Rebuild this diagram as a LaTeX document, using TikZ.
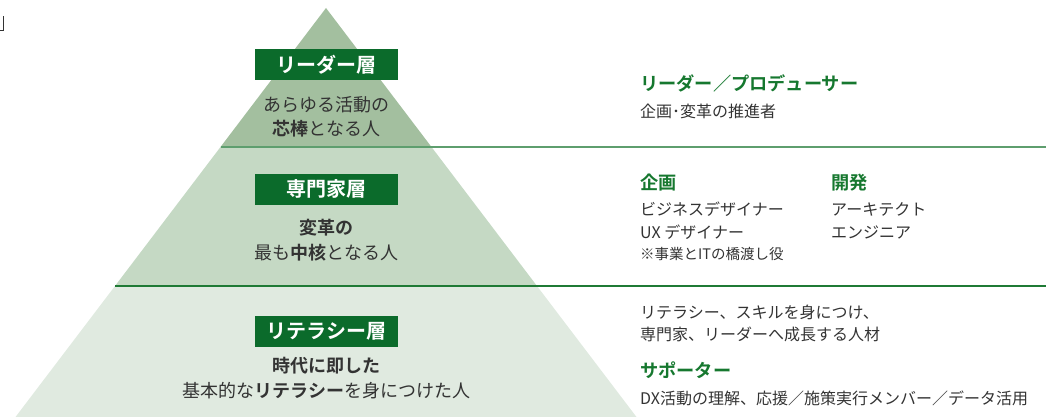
\documentclass[tikz,border=0pt]{standalone}
\usepackage{fontspec}
\setmainfont{Noto Sans CJK JP}[BoldFont={Noto Sans CJK JP Bold}]
\definecolor{topfill}{HTML}{A3BF9F}
\definecolor{midfill}{HTML}{C5D9C4}
\definecolor{lowfill}{HTML}{E0EAE0}
\definecolor{boxgreen}{HTML}{0B6B2B}
\definecolor{headgreen}{HTML}{16782F}
\definecolor{lineA}{HTML}{5E9E6E}
\definecolor{lineB}{HTML}{1F7A35}
\definecolor{txt}{HTML}{333333}
\tikzset{
  layerbox/.style={fill=boxgreen, text=white, font=\fontsize{20}{22}\selectfont\bfseries, minimum width=143pt, minimum height=31pt, inner sep=0pt},
  pyrtext/.style={text=txt, font=\fontsize{18}{24.5}\selectfont, align=center, inner sep=0pt},
  head/.style={text=headgreen, font=\fontsize{18.2}{20}\selectfont\bfseries, anchor=west, inner sep=0pt},
  body/.style={text=txt, font=\fontsize{16}{23}\selectfont, anchor=west, inner sep=0pt, align=left},
  note/.style={text=txt, font=\fontsize{14.5}{16}\selectfont, anchor=west, inner sep=0pt},
}
\begin{document}
\begin{tikzpicture}[x=1pt,y=-1pt]
\useasboundingbox (0,0) rectangle (1046,417);
% pyramid bands
\fill[lowfill] (115,286) -- (537,286) -- (636.5,417) -- (15.5,417) -- cycle;
\fill[midfill] (220.5,147) -- (431.5,147) -- (537,286) -- (115,286) -- cycle;
\fill[topfill] (326,8) -- (431.5,147) -- (220.5,147) -- cycle;
% separator lines
\coordinate (l1a) at (220.5,147);
\coordinate (l1b) at (1046,147);
\coordinate (l2a) at (115,286);
\coordinate (l2b) at (1046,286);
\draw[lineA, line width=1.3pt] (l1a) -- (l1b);
\draw[lineB, line width=1.5pt] (l2a) -- (l2b);
% fragment at top left
\draw[txt, line width=1.4pt] (3.5,16.5) -- (3.5,30.5) -- (-2,30.5);
% layer labels
\node[layerbox] (b1) at (326.5,64.5) {リーダー層};
\node[layerbox] (b2) at (326.5,189) {専門家層};
\node[layerbox] (b3) at (326.5,331) {リテラシー層};
% pyramid texts
\node[pyrtext] (p1) at (326.5,117) {あらゆる活動の\\\textbf{芯棒}となる人};
\node[pyrtext] (p2) at (326.5,240) {\textbf{変革の}\\最も\textbf{中核}となる人};
\node[pyrtext] (p3) at (326.5,378) {\textbf{時代に即した}\\基本的な\textbf{リテラシー}を身につけた人};
% right side
\node[head] (h1) at (640,83) {リーダー／プロデューサー};
\node[body] (t1) at (640,111) {企画･変革の推進者};
\node[head] (h2) at (640,183) {企画};
\node[head] (h3) at (831,183) {開発};
\node[body] (t2) at (640,209) {ビジネスデザイナー};
\node[body] (t3) at (640,232) {UX デザイナー};
\node[note] (t4) at (640,254) {※事業とITの橋渡し役};
\node[body] (t5) at (831,209) {アーキテクト};
\node[body] (t6) at (831,232) {エンジニア};
\node[body] (t7) at (640,312) {リテラシー、スキルを身につけ、};
\node[body] (t8) at (640,334) {専門家、リーダーへ成長する人材};
\node[head] (h4) at (640,370) {サポーター};
\node[body] (t9) at (640,398) {DX活動の理解、応援／施策実行メンバー／データ活用};
\end{tikzpicture}
\end{document}
